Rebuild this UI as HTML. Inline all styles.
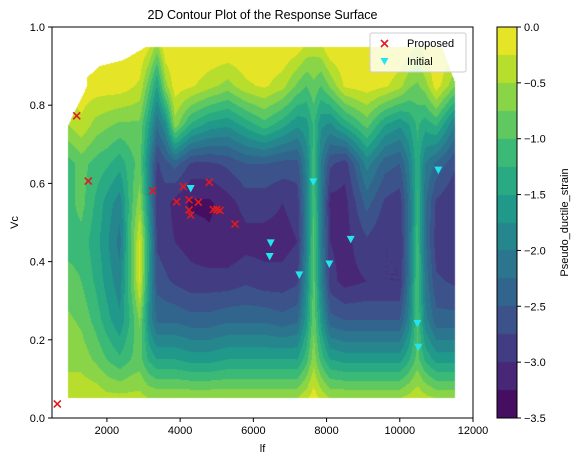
<!DOCTYPE html>
<html><head><meta charset="utf-8"><style>
html,body{margin:0;padding:0;background:#fff;width:580px;height:464px;overflow:hidden;font-family:"Liberation Sans",sans-serif}
#wrap{position:relative;width:580px;height:464px}
canvas{position:absolute;left:0;top:0}
svg{position:absolute;left:0;top:0}
</style></head><body>
<div id="wrap">
<canvas id="cv" width="580" height="464"></canvas>
<svg id="sv" width="580" height="464" font-family="Liberation Sans, sans-serif" font-size="11"></svg>
</div>
<script>
// grid x nodes (lf) and y nodes (Vc)
const gridX=[950,1300,1700,2000,2350,2650,2900,3150,3370,3600,3860,4300,4800,5300,5800,6300,6800,7200,7450,7650,7850,8100,8500,9100,9600,10000,10250,10480,10700,11000,11500];
const gridY=[0.05,0.15,0.25,0.35,0.45,0.55,0.65,0.75,0.85,0.95];
const gridZ=[
[-0.3,-0.6,-0.7,-0.9,-1.1,-1.1,-1.1,-0.5,-0.1,0],
[-0.3,-0.6,-0.8,-1.0,-1.1,-0.9,-0.9,-0.3,-0.1,0],
[-0.3,-0.8,-1.1,-1.3,-1.4,-1.3,-1.1,-0.6,-0.1,0],
[-0.4,-1.0,-1.4,-1.6,-1.7,-1.6,-1.2,-0.7,-0.1,0],
[-0.4,-1.2,-1.7,-1.9,-2.1,-1.9,-1.4,-0.8,-0.1,0],
[-0.4,-1.0,-1.2,-1.0,-1.0,-1.1,-1.1,-0.8,-0.2,0],
[-0.4,-0.9,-0.7,-0.2,-0.2,-0.6,-0.9,-0.8,-0.3,0],
[-0.5,-1.3,-1.8,-1.6,-1.5,-1.8,-1.9,-1.5,-0.9,-0.2],
[-0.5,-1.5,-2.3,-2.6,-2.8,-2.9,-2.8,-2.2,-1.5,-0.6],
[-0.5,-1.5,-2.3,-2.7,-2.9,-2.9,-2.6,-1.8,-0.6,0],
[-0.5,-1.5,-2.3,-2.8,-3.0,-3.1,-2.4,-0.6,-0.1,0],
[-0.5,-1.6,-2.4,-2.9,-3.1,-3.3,-2.8,-1.3,-0.2,0],
[-0.5,-1.6,-2.4,-2.9,-3.2,-3.3,-2.8,-1.6,-0.4,0],
[-0.5,-1.5,-2.3,-2.9,-3.2,-3.1,-2.7,-1.7,-0.6,0],
[-0.5,-1.5,-2.3,-2.8,-3.1,-2.9,-2.5,-1.4,-0.3,0],
[-0.5,-1.5,-2.3,-2.9,-3.1,-2.9,-2.5,-1.1,-0.2,0],
[-0.5,-1.5,-2.4,-2.9,-3.1,-3.0,-2.6,-1.4,-0.4,0],
[-0.5,-1.5,-2.3,-2.8,-3.0,-2.9,-2.6,-1.7,-0.8,-0.1],
[-0.3,-1.1,-1.6,-1.8,-2.0,-2.0,-1.9,-1.6,-1.0,-0.3],
[-0.1,-0.6,-0.8,-0.9,-0.9,-1.0,-1.1,-1.2,-0.8,-0.4],
[-0.3,-1.1,-1.6,-1.9,-2.0,-2.0,-2.0,-1.7,-1.0,-0.3],
[-0.5,-1.5,-2.4,-2.9,-3.0,-3.1,-2.7,-1.8,-0.7,0],
[-0.5,-1.6,-2.5,-3.1,-3.1,-3.1,-2.9,-1.4,-0.2,0],
[-0.5,-1.6,-2.5,-3.0,-2.8,-2.4,-1.9,-0.9,-0.1,0],
[-0.5,-1.6,-2.5,-3.0,-3.0,-2.8,-2.4,-1.5,-0.2,0],
[-0.5,-1.6,-2.5,-3.0,-3.0,-2.9,-2.5,-1.7,-0.4,0],
[-0.4,-1.3,-1.9,-2.1,-2.2,-2.2,-2.0,-1.5,-0.7,-0.1],
[-0.3,-0.9,-1.0,-1.0,-1.1,-1.2,-1.3,-1.2,-0.8,-0.3],
[-0.4,-1.3,-1.9,-2.1,-2.2,-2.2,-2.0,-1.4,-0.6,-0.1],
[-0.5,-1.6,-2.4,-2.7,-2.9,-2.8,-2.3,-1.2,-0.1,0],
[-0.5,-1.6,-2.4,-2.8,-3.0,-3.0,-2.7,-2.0,-0.7,-0.1]];
const proposedX=[645,1175,1492,3250,4087,3906,4243,4497,4243,4289,4797,4906,5000,5089,5499];
const proposedY=[0.036,0.773,0.606,0.581,0.592,0.553,0.558,0.552,0.532,0.519,0.603,0.533,0.533,0.531,0.496];
const initialX=[4289,6474,6446,7255,7638,8076,8660,10480,10507,11053];
const initialY=[0.587,0.448,0.413,0.366,0.604,0.394,0.457,0.242,0.181,0.634];
const xTicks=[2000,4000,6000,8000,10000,12000];
const yTicks=[0.0,0.2,0.4,0.6,0.8,1.0];
const cbTicks=[0.0,-0.5,-1.0,-1.5,-2.0,-2.5,-3.0,-3.5];
const levelMin=-3.5, levelMax=0, nBands=14;

const L=52,R=473,T=27,B=418, XMIN=500,XMAX=12000;
const sx=v=>L+(v-XMIN)/(XMAX-XMIN)*(R-L);
const sy=v=>B-(v-0)/(1-0)*(B-T);
const VIR=[[68,1,84],[72,40,120],[62,74,137],[49,104,142],[38,130,142],[31,158,137],[53,183,121],[109,205,89],[180,222,44],[253,231,37]];
function vir(t){t=Math.max(0,Math.min(1,t));const f=t*(VIR.length-1),i=Math.min(VIR.length-2,Math.floor(f)),u=f-i;
 return VIR[i].map((c,k)=>Math.round(c+(VIR[i+1][k]-c)*u));}
function bandColor(b){const mid=levelMin+(b+0.5)*(levelMax-levelMin)/nBands;return vir((mid-levelMin)/(levelMax-levelMin));}
function interp(x,y){
 let i=0;while(i<gridX.length-2&&x>gridX[i+1])i++;
 let j=0;while(j<gridY.length-2&&y>gridY[j+1])j++;
 const u=Math.max(0,Math.min(1,(x-gridX[i])/(gridX[i+1]-gridX[i])));
 const v=Math.max(0,Math.min(1,(y-gridY[j])/(gridY[j+1]-gridY[j])));
 const a=gridZ[i][j],b=gridZ[i+1][j],c=gridZ[i][j+1],d=gridZ[i+1][j+1];
 return a*(1-u)*(1-v)+b*u*(1-v)+c*(1-u)*v+d*u*v;}
const clipPoly=[[950,0.05],[950,0.75],[1450,0.847],[1450,0.87],[1800,0.9],[2440,0.915],[3090,0.95],[11150,0.95],[11500,0.86],[11500,0.05]];
const cv=document.getElementById('cv'),ctx=cv.getContext('2d');
ctx.fillStyle='#fff';ctx.fillRect(0,0,580,464);
const img=ctx.getImageData(0,0,580,464);
for(let py=T;py<B;py++)for(let px=L;px<R;px++){
 const x=XMIN+(px+0.5-L)/(R-L)*(XMAX-XMIN),y=(B-py-0.5)/(B-T);
 if(x<gridX[0]||x>gridX[gridX.length-1]||y<0.05||y>0.95)continue;
 let inside=false;for(let a=0,b=clipPoly.length-1;a<clipPoly.length;b=a++){const[xa,ya]=clipPoly[a],[xb,yb]=clipPoly[b];
  if((ya>y)!==(yb>y)&&x<(xb-xa)*(y-ya)/(yb-ya)+xa)inside=!inside;}
 if(!inside)continue;
 const z=interp(x,y);let bnd=Math.floor((z-levelMin)/(levelMax-levelMin)*nBands);bnd=Math.max(0,Math.min(nBands-1,bnd));
 const c=bandColor(bnd),k=(py*580+px)*4;img.data[k]=c[0];img.data[k+1]=c[1];img.data[k+2]=c[2];img.data[k+3]=255;}
// colorbar
const CL=497,CR=517;
for(let py=T;py<B;py++){const z=levelMax-(py+0.5-T)/(B-T)*(levelMax-levelMin);let bnd=Math.floor((z-levelMin)/(levelMax-levelMin)*nBands);bnd=Math.max(0,Math.min(nBands-1,bnd));
 const c=bandColor(bnd);for(let px=CL;px<CR;px++){const k=(py*580+px)*4;img.data[k]=c[0];img.data[k+1]=c[1];img.data[k+2]=c[2];img.data[k+3]=255;}}
ctx.putImageData(img,0,0);

const sv=document.getElementById('sv'),NS='http://www.w3.org/2000/svg';
function el(t,a,txt){const e=document.createElementNS(NS,t);for(const k in a)e.setAttribute(k,a[k]);if(txt!=null)e.textContent=txt;sv.appendChild(e);return e;}
let e=el('rect',{x:L,y:T,width:R-L,height:B-T,fill:'none',stroke:'#000','stroke-width':1});

xTicks.forEach(t=>{const x=sx(t);el('line',{x1:x,x2:x,y1:B,y2:B+4,stroke:'#000'});
 const tx=el('text',{x:x,y:B+16,'text-anchor':'middle'},String(t));
 });
yTicks.forEach(t=>{const y=sy(t);el('line',{x1:L-4,x2:L,y1:y,y2:y,stroke:'#000'});
 const tx=el('text',{x:L-7,y:y+4,'text-anchor':'end'},t.toFixed(1));
 });
e=el('text',{x:(L+R)/2,y:452,'text-anchor':'middle'},'lf');
e=el('text',{x:18,y:(T+B)/2,'text-anchor':'middle',transform:`rotate(-90 18 ${(T+B)/2})`},'Vc');
e=el('text',{x:(L+R)/2,y:19,'text-anchor':'middle','font-size':12.5},'2D Contour Plot of the Response Surface');
proposedX.forEach((v,i)=>{const x=sx(v),y=sy(proposedY[i]);
 const g=el('path',{d:`M${x-3.5},${y-3.5}L${x+3.5},${y+3.5}M${x-3.5},${y+3.5}L${x+3.5},${y-3.5}`,stroke:'#e31a1c','stroke-width':1.6});
 });
initialX.forEach((v,i)=>{const x=sx(v),y=sy(initialY[i]);
 const g=el('path',{d:`M${x-4},${y-3.5}L${x+4},${y-3.5}L${x},${y+4}Z`,fill:'#22e5f0'});
 });
// legend
e=el('rect',{x:370,y:33,width:96,height:39,rx:2,fill:'rgba(255,255,255,0.8)',stroke:'#ccc'});
el('path',{d:'M381,40L388,47M381,47L388,40',stroke:'#e31a1c','stroke-width':1.6});
e=el('text',{x:407,y:47},'Proposed');
el('path',{d:'M380.5,58L388.5,58L384.5,65Z',fill:'#22e5f0'});
e=el('text',{x:407,y:65},'Initial');
// colorbar frame + ticks
e=el('rect',{x:CL,y:T,width:CR-CL,height:B-T,fill:'none',stroke:'#000'});
cbTicks.forEach(t=>{const y=T+(levelMax-t)/(levelMax-levelMin)*(B-T);el('line',{x1:CR,x2:CR+4,y1:y,y2:y,stroke:'#000'});
 const tx=el('text',{x:CR+7,y:y+4},(t<0?'\u2212':'')+Math.abs(t).toFixed(1));
 });
e=el('text',{x:568,y:(T+B)/2,'text-anchor':'middle',transform:`rotate(-90 568 ${(T+B)/2})`},'Pseudo_ductile_strain');

</script>
</body></html>
